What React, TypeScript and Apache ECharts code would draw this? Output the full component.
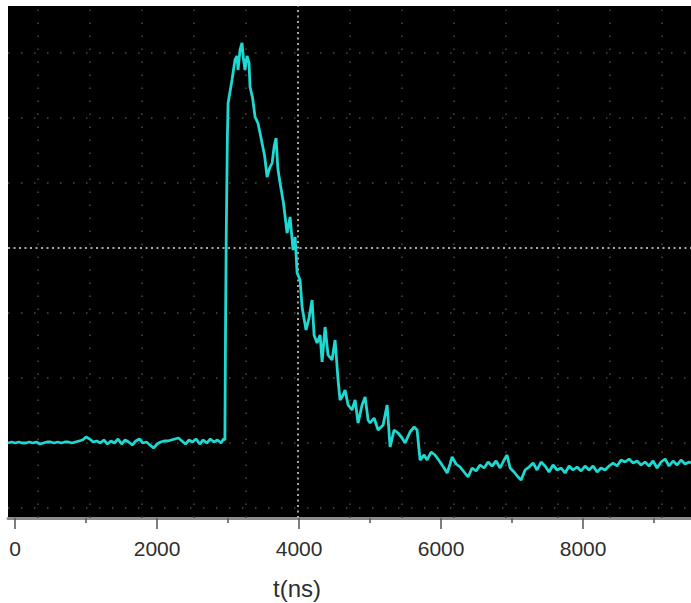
import React, { useEffect, useRef } from "react";
import * as echarts from "echarts";

// time axis (ns) and trace amplitude (arbitrary units, 65 units = 1 scope division)
const TIME_NS = [
  -100, -50, 0, 50, 100, 150, 200, 250, 300, 350, 400, 450, 500, 550, 600, 650, 700, 750, 800, 850,
  900, 950, 1000, 1050, 1100, 1150, 1200, 1250, 1300, 1350, 1400, 1450, 1500, 1550, 1600, 1650, 1700,
  1750, 1800, 1850, 1900, 1950, 2000, 2050, 2100, 2150, 2200, 2250, 2300, 2350, 2400, 2450, 2500, 2550,
  2600, 2650, 2700, 2750, 2800, 2850, 2900, 2935, 2955, 2965, 2975, 2990, 3000, 3055, 3097, 3126, 3140,
  3168, 3196, 3215, 3238, 3266, 3295, 3309, 3345, 3380, 3420, 3450, 3478, 3515, 3549, 3585, 3620, 3650,
  3676, 3700, 3732, 3780, 3831, 3873, 3915, 3944, 3972, 4014, 4042, 4098, 4140, 4183, 4211, 4253, 4296,
  4324, 4366, 4408, 4464, 4507, 4549, 4577, 4620, 4648, 4690, 4746, 4789, 4831, 4887, 4930, 4972, 5000,
  5056, 5113, 5183, 5240, 5282, 5338, 5394, 5451, 5493, 5563, 5620, 5662, 5704, 5761, 5803, 5859, 5915,
  5986, 6042, 6085, 6127, 6155, 6211, 6268, 6324, 6380, 6437, 6493, 6549, 6606, 6662, 6718, 6775, 6831,
  6887, 6929, 6972, 7028, 7084, 7127, 7183, 7239, 7296, 7352, 7408, 7465, 7521, 7577, 7634, 7690, 7746,
  7803, 7859, 7915, 7972, 8028, 8084, 8141, 8197, 8253, 8310, 8366, 8422, 8479, 8535, 8591, 8648, 8704,
  8760, 8817, 8873, 8929, 8986, 9042, 9098, 9155, 9211, 9267, 9324, 9380, 9436, 9493, 9520,
];

const SIGNAL = [
  75, 76, 75, 76, 75, 75, 76, 75, 76, 74, 75, 76, 76, 75, 76, 75, 76, 76, 75, 76,
  77, 78, 81, 79, 76, 77, 75, 78, 74, 77, 75, 79, 74, 78, 76, 73, 77,
  79, 75, 76, 73, 70, 74, 76, 77, 77, 78, 79, 80, 77, 74, 78, 76, 79,
  74, 78, 75, 79, 76, 78, 75, 79, 78, 200, 290, 380, 415, 438, 458, 462, 448,
  468, 475, 460, 448, 462, 455, 431, 420, 401, 395, 385, 375, 362, 341, 350, 355, 372,
  380, 350, 335, 315, 285, 301, 268, 281, 245, 238, 211, 188, 200, 218, 183, 175, 183,
  156, 191, 163, 158, 178, 138, 118, 123, 128, 113, 108, 118, 95, 113, 121, 98, 95,
  100, 88, 93, 113, 71, 88, 85, 80, 75, 86, 91, 88, 58, 63, 58, 66, 63,
  56, 50, 45, 54, 61, 54, 51, 46, 41, 50, 47, 53, 50, 56, 52, 57, 50,
  58, 63, 50, 46, 41, 38, 48, 51, 55, 48, 56, 52, 46, 53, 48, 50, 45,
  52, 48, 51, 47, 52, 48, 52, 46, 50, 48, 52, 55, 52, 58, 56, 59, 55,
  57, 53, 56, 52, 57, 50, 56, 59, 52, 57, 53, 58, 54, 56, 55,
];

const X_MIN = -100;
const X_MAX = 9520;
const Y_MIN = 0;
const Y_MAX = 512;

const TICKS_LABELLED = [0, 2000, 4000, 6000, 8000];
const TICKS_MINOR = [1000, 3000, 5000, 7000, 9000];

// oscilloscope graticule (scope divisions expressed in axis units)
const GRID_CENTER_T = 3985;
const GRID_DIV_T = 732;
const GRID_DIVS_T = [-5, -4, -3, -2, -1, 1, 2, 3, 4, 5, 6, 7];
const GRID_CENTER_Y = 270;
const GRID_DIV_Y = 65;
const GRID_DIVS_Y = [-4, -3, -2, -1, 1, 2, 3];

const X_NAME = "t(ns)";

export default function App() {
  const ref = useRef<HTMLDivElement>(null);

  useEffect(() => {
    if (!ref.current) return;
    const chart = echarts.init(ref.current, null, { renderer: "svg" });
    const points = TIME_NS.map((t, i) => [t, SIGNAL[i]]);

    const faint = { color: "#4a4a4a", width: 1.5, type: [1.5, 11.5] as any };
    const bright = { color: "#a8a8a8", width: 2, type: [2, 3.5] as any };

    const gridLines: any[] = [
      ...GRID_DIVS_T.map((k) => ({ xAxis: GRID_CENTER_T + k * GRID_DIV_T, lineStyle: faint })),
      ...GRID_DIVS_Y.map((k) => ({ yAxis: GRID_CENTER_Y + k * GRID_DIV_Y, lineStyle: faint })),
      { xAxis: GRID_CENTER_T, lineStyle: bright },
      { yAxis: GRID_CENTER_Y, lineStyle: bright },
    ];

    chart.setOption({
      animation: false,
      backgroundColor: "#ffffff",
      grid: {
        left: 8,
        right: 0,
        top: 6,
        bottom: 85,
        show: true,
        backgroundColor: "#000000",
        borderWidth: 0,
      },
      xAxis: [
        {
          type: "value",
          min: X_MIN,
          max: X_MAX,
          position: "bottom",
          axisLine: { show: true, lineStyle: { color: "#8c8c8c", width: 3 } },
          axisTick: {
            show: true,
            customValues: TICKS_LABELLED,
            length: 11,
            lineStyle: { color: "#555", width: 1.5 },
          },
          axisLabel: {
            show: true,
            customValues: TICKS_LABELLED,
            formatter: (v: number) => String(v),
            margin: 20,
            fontSize: 21,
            fontFamily: "Liberation Sans, Arial, sans-serif",
            color: "#2e2e2e",
          },
          splitLine: { show: false },
        },
        {
          type: "value",
          min: X_MIN,
          max: X_MAX,
          position: "bottom",
          axisLine: { show: false },
          axisTick: {
            show: true,
            customValues: TICKS_MINOR,
            length: 5,
            lineStyle: { color: "#555", width: 1.5 },
          },
          axisLabel: { show: false },
          splitLine: { show: false },
        },
      ],
      yAxis: {
        type: "value",
        min: Y_MIN,
        max: Y_MAX,
        show: false,
        splitLine: { show: false },
      },
      graphic: [
        {
          type: "text",
          x: 297,
          y: 588,
          style: {
            text: X_NAME,
            fontSize: 24,
            fontFamily: "Liberation Sans, Arial, sans-serif",
            fill: "#2e2e2e",
            textAlign: "center",
            textVerticalAlign: "middle",
          },
        },
      ],
      series: [
        {
          type: "line",
          xAxisIndex: 0,
          data: points,
          showSymbol: false,
          silent: true,
          z: 1,
          lineStyle: { opacity: 0 },
          markLine: {
            silent: true,
            symbol: "none",
            label: { show: false },
            animation: false,
            data: gridLines,
          },
        },
        {
          type: "line",
          xAxisIndex: 0,
          data: points,
          showSymbol: false,
          silent: true,
          z: 10,
          lineStyle: { color: "#1ed8d2", width: 2.8 },
        },
      ],
    });

    return () => chart.dispose();
  }, []);

  return (
    <div
      ref={ref}
      style={{ position: "absolute", left: 0, top: 0, width: 691, height: 603 }}
    />
  );
}
